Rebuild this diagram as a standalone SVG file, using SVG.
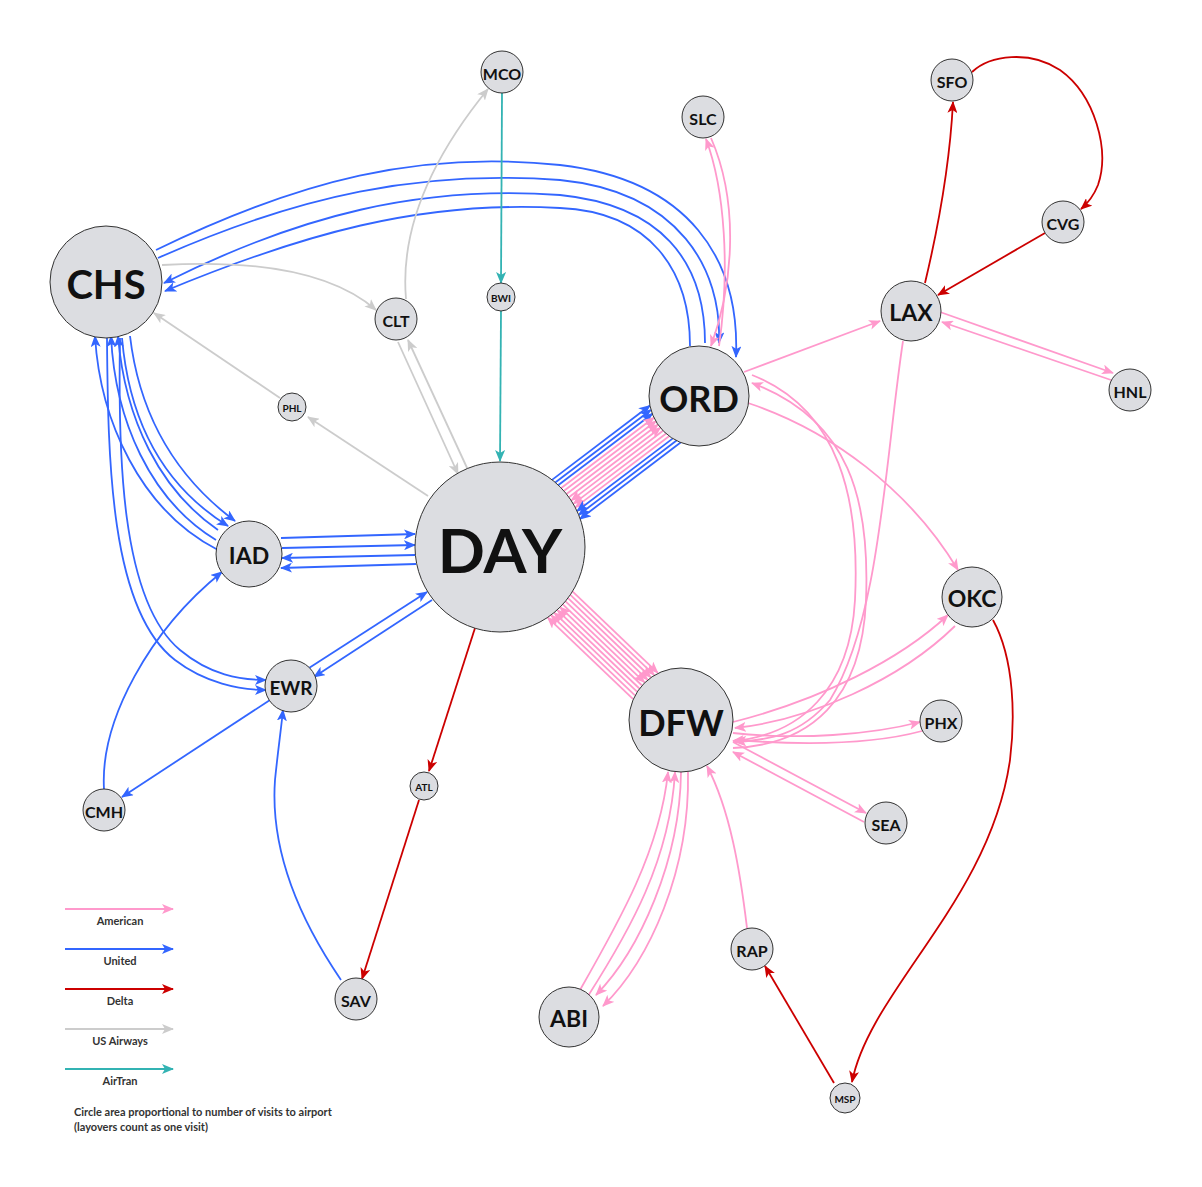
<svg xmlns="http://www.w3.org/2000/svg" width="1202" height="1187" viewBox="0 0 1202 1187">
<style>
.n circle{fill:#dcdde1;stroke:#333;stroke-width:1}
.n text{font-family:Lato,"Open Sans",sans-serif;font-weight:bold;fill:#111;text-anchor:middle;dominant-baseline:central}
.e path,.e line{fill:none;stroke-width:1.8}
.am{stroke:#ff99cc;marker-end:url(#mA)}
.un{stroke:#3366ff;marker-end:url(#mU)}
.de{stroke:#cc0000;marker-end:url(#mD)}
.us{stroke:#cccccc;marker-end:url(#mS)}
.at{stroke:#33b3b3;marker-end:url(#mT)}
.lg{font-family:Lato,"Open Sans",sans-serif;font-size:11px;font-weight:bold;fill:#333}
</style>
<defs>
<marker id="mA" viewBox="0 0 12 10" refX="11" refY="5" markerWidth="12" markerHeight="10" markerUnits="userSpaceOnUse" orient="auto"><path d="M0,0 L12,5 L0,10 L3,5z" fill="#ff99cc"/></marker>
<marker id="mU" viewBox="0 0 12 10" refX="11" refY="5" markerWidth="12" markerHeight="10" markerUnits="userSpaceOnUse" orient="auto"><path d="M0,0 L12,5 L0,10 L3,5z" fill="#3366ff"/></marker>
<marker id="mD" viewBox="0 0 12 10" refX="11" refY="5" markerWidth="12" markerHeight="10" markerUnits="userSpaceOnUse" orient="auto"><path d="M0,0 L12,5 L0,10 L3,5z" fill="#cc0000"/></marker>
<marker id="mS" viewBox="0 0 12 10" refX="11" refY="5" markerWidth="12" markerHeight="10" markerUnits="userSpaceOnUse" orient="auto"><path d="M0,0 L12,5 L0,10 L3,5z" fill="#cccccc"/></marker>
<marker id="mT" viewBox="0 0 12 10" refX="11" refY="5" markerWidth="12" markerHeight="10" markerUnits="userSpaceOnUse" orient="auto"><path d="M0,0 L12,5 L0,10 L3,5z" fill="#33b3b3"/></marker>
</defs>
<rect width="1202" height="1187" fill="#fff"/>
<g id="connectors" class="e">
<g transform="translate(500,547) rotate(-37.2)">
<line class="un" x1="82" y1="-22" x2="205" y2="-22"/>
<line class="un" x1="83" y1="-18" x2="203" y2="-18"/>
<line class="un" x1="84" y1="-14" x2="202" y2="-14"/>
<line class="am" x1="84.5" y1="-10" x2="201" y2="-10"/>
<line class="am" x1="85" y1="-6" x2="200.5" y2="-6"/>
<line class="am" x1="85" y1="-2" x2="200" y2="-2"/>
<line class="am" x1="85" y1="2" x2="200" y2="2"/>
<line class="am" x2="85" y2="6" x1="200.5" y1="6"/>
<line class="am" x2="84.5" y2="10" x1="201" y1="10"/>
<line class="am" x2="84" y2="14" x1="202" y1="14"/>
<line class="un" x2="83" y2="18" x1="203" y1="18"/>
<line class="un" x2="82" y2="22" x1="205" y1="22"/>
<line class="un" x2="80.5" y2="26" x1="207" y1="26"/>
</g>
<g transform="translate(500,547) rotate(43.7)">
<line class="am" x1="83" y1="-18" x2="201" y2="-18"/>
<line class="am" x1="84" y1="-14" x2="200" y2="-14"/>
<line class="am" x1="84.5" y1="-10" x2="199" y2="-10"/>
<line class="am" x1="85" y1="-6" x2="198.5" y2="-6"/>
<line class="am" x1="85" y1="-2" x2="198" y2="-2"/>
<line class="am" x2="85" y2="2" x1="198" y1="2"/>
<line class="am" x2="85" y2="6" x1="198.5" y1="6"/>
<line class="am" x2="84.5" y2="10" x1="199" y1="10"/>
<line class="am" x2="84" y2="14" x1="200" y1="14"/>
<line class="am" x2="83" y2="18" x1="201" y1="18"/>
</g>
<line class="un" x1="281" y1="538" x2="415" y2="534"/>
<line class="un" x1="282" y1="548" x2="415" y2="545"/>
<line class="un" x1="415" y1="555" x2="282" y2="558"/>
<line class="un" x1="416" y1="564" x2="281" y2="568"/>
<line class="un" x1="309" y1="668" x2="427" y2="592"/>
<line class="un" x1="432" y1="600" x2="314" y2="677"/>
<path class="un" d="M156,250 C300,180 420,150 560,165 C690,180 740,260 736,357"/>
<path class="un" d="M158,258 C300,195 420,170 560,180 C680,192 722,270 719,343"/>
<path class="un" d="M705,343 C705,260 660,205 560,195 C420,185 300,215 164,283"/>
<path class="un" d="M690,346 C690,270 650,212 560,208 C420,200 300,235 165,291"/>
<path class="un" d="M130,336 C140,420 180,480 235,521"/>
<path class="un" d="M122,338 C130,430 170,490 228,526"/>
<path class="un" d="M218,530 C160,490 125,420 118,336"/>
<path class="un" d="M216,540 C150,500 115,420 111,336"/>
<path class="un" d="M218,550 C140,510 100,420 95,336"/>
<path class="un" d="M120,338 C118,450 120,600 180,650 C210,675 240,680 266,680"/>
<path class="un" d="M107,338 C108,460 110,610 175,660 C205,683 240,690 266,690"/>
<path class="un" d="M104,789 C100,720 150,630 222,572"/>
<line class="un" x1="270" y1="700" x2="122" y2="797"/>
<path class="un" d="M341,980 C300,920 270,850 275,780 C278,750 281,730 283,710"/>
<line class="de" x1="475" y1="628" x2="429" y2="771"/>
<line class="de" x1="419" y1="800" x2="362" y2="979"/>
<path class="de" d="M925,283 C940,220 950,160 953,102"/>
<path class="de" d="M972,72 C990,55 1030,50 1060,70 C1095,95 1110,150 1098,185 C1094,195 1088,203 1081,209"/>
<line class="de" x1="1045" y1="233" x2="938" y2="295"/>
<line class="de" x1="834" y1="1083" x2="765" y2="966"/>
<path class="de" d="M993,620 C1015,660 1015,720 1010,760 C990,900 870,990 852,1082"/>
<line class="at" x1="502" y1="93" x2="501" y2="283"/>
<line class="at" x1="501" y1="311" x2="500" y2="461"/>
<path class="us" d="M406,299 C400,230 430,160 488,89"/>
<line class="us" x1="468" y1="470" x2="408" y2="340"/>
<line class="us" x1="398" y1="342" x2="458" y2="474"/>
<line class="us" x1="428" y1="496" x2="308" y2="417"/>
<line class="us" x1="280" y1="398" x2="154" y2="313"/>
<path class="us" d="M162,265 C250,260 330,270 376,310"/>
<line class="am" x1="744" y1="372" x2="880" y2="321"/>
<line class="am" x1="940" y1="312" x2="1113" y2="373"/>
<line class="am" x1="1111" y1="380" x2="942" y2="322"/>
<path class="am" d="M719,346 C730,270 725,190 706,139"/>
<path class="am" d="M711,138 C738,200 735,280 711,346"/>
<path class="am" d="M748,403 C830,430 910,490 958,570"/>
<path class="am" d="M752,375 C840,410 860,500 855,600 C850,690 800,735 733,741"/>
<path class="am" d="M733,748 C810,745 862,700 866,600 C870,500 850,420 752,383"/>
<path class="am" d="M903,341 C885,460 880,620 830,700 C800,735 770,740 735,742"/>
<path class="am" d="M733,722 C820,700 900,660 948,615"/>
<path class="am" d="M955,626 C900,680 810,720 735,728"/>
<path class="am" d="M733,733 C800,740 870,735 920,722"/>
<path class="am" d="M922,731 C870,745 800,745 735,740"/>
<line class="am" x1="733" y1="742" x2="866" y2="813"/>
<line class="am" x1="864" y1="822" x2="733" y2="752"/>
<path class="am" d="M747,928 C740,870 730,810 707,766"/>
<path class="am" d="M580,990 C620,920 660,850 668,772"/>
<path class="am" d="M588,996 C630,930 670,860 675,772"/>
<path class="am" d="M681,772 C680,860 640,950 596,995"/>
<path class="am" d="M688,772 C690,870 650,960 603,1006"/>
</g>
<g id="nodes" class="n">
<g id="n-DAY"><circle cx="500" cy="547" r="85"/><text x="500" y="549" font-size="62">DAY</text></g>
<g id="n-CHS"><circle cx="106" cy="282" r="56"/><text x="106" y="284" font-size="40">CHS</text></g>
<g id="n-ORD"><circle cx="699" cy="396" r="50"/><text x="699" y="398" font-size="36">ORD</text></g>
<g id="n-DFW"><circle cx="681" cy="720" r="52"/><text x="681" y="722" font-size="36">DFW</text></g>
<g id="n-IAD"><circle cx="249" cy="554" r="33"/><text x="249" y="555" font-size="23">IAD</text></g>
<g id="n-EWR"><circle cx="291" cy="686" r="26"/><text x="291" y="687" font-size="19">EWR</text></g>
<g id="n-CLT"><circle cx="396" cy="319" r="21"/><text x="396" y="320" font-size="16">CLT</text></g>
<g id="n-MCO"><circle cx="502" cy="72" r="21"/><text x="502" y="73" font-size="16">MCO</text></g>
<g id="n-BWI"><circle cx="501" cy="297" r="14"/><text x="501" y="298" font-size="10">BWI</text></g>
<g id="n-PHL"><circle cx="292" cy="407" r="14"/><text x="292" y="408" font-size="10">PHL</text></g>
<g id="n-SLC"><circle cx="703" cy="117" r="21"/><text x="703" y="118" font-size="16">SLC</text></g>
<g id="n-SFO"><circle cx="952" cy="80" r="21"/><text x="952" y="81" font-size="16">SFO</text></g>
<g id="n-CVG"><circle cx="1063" cy="222" r="21"/><text x="1063" y="223" font-size="16">CVG</text></g>
<g id="n-LAX"><circle cx="911" cy="311" r="30"/><text x="911" y="312" font-size="23">LAX</text></g>
<g id="n-HNL"><circle cx="1130" cy="390" r="21"/><text x="1130" y="391" font-size="16">HNL</text></g>
<g id="n-OKC"><circle cx="972" cy="597" r="30"/><text x="972" y="598" font-size="23">OKC</text></g>
<g id="n-PHX"><circle cx="941" cy="721" r="21"/><text x="941" y="722" font-size="16">PHX</text></g>
<g id="n-SEA"><circle cx="886" cy="823" r="21"/><text x="886" y="824" font-size="16">SEA</text></g>
<g id="n-RAP"><circle cx="752" cy="949" r="21"/><text x="752" y="950" font-size="16">RAP</text></g>
<g id="n-MSP"><circle cx="845" cy="1098" r="15"/><text x="845" y="1099" font-size="10">MSP</text></g>
<g id="n-ABI"><circle cx="569" cy="1017" r="30"/><text x="569" y="1018" font-size="23">ABI</text></g>
<g id="n-SAV"><circle cx="356" cy="999" r="21"/><text x="356" y="1000" font-size="16">SAV</text></g>
<g id="n-ATL"><circle cx="424" cy="786" r="14"/><text x="424" y="787" font-size="10">ATL</text></g>
<g id="n-CMH"><circle cx="104" cy="810" r="21"/><text x="104" y="811" font-size="16">CMH</text></g>
</g>
<g id="legend" class="e">
<line class="am" x1="65" y1="909" x2="173" y2="909"/>
<line class="un" x1="65" y1="949" x2="173" y2="949"/>
<line class="de" x1="65" y1="989" x2="173" y2="989"/>
<line class="us" x1="65" y1="1029" x2="173" y2="1029"/>
<line class="at" x1="65" y1="1069" x2="173" y2="1069"/>
<text class="lg" x="120" y="925" text-anchor="middle">American</text>
<text class="lg" x="120" y="965" text-anchor="middle">United</text>
<text class="lg" x="120" y="1005" text-anchor="middle">Delta</text>
<text class="lg" x="120" y="1045" text-anchor="middle">US Airways</text>
<text class="lg" x="120" y="1085" text-anchor="middle">AirTran</text>
<text class="lg" x="74" y="1116">Circle area proportional to number of visits to airport</text>
<text class="lg" x="74" y="1131">(layovers count as one visit)</text>
</g>
</svg>
